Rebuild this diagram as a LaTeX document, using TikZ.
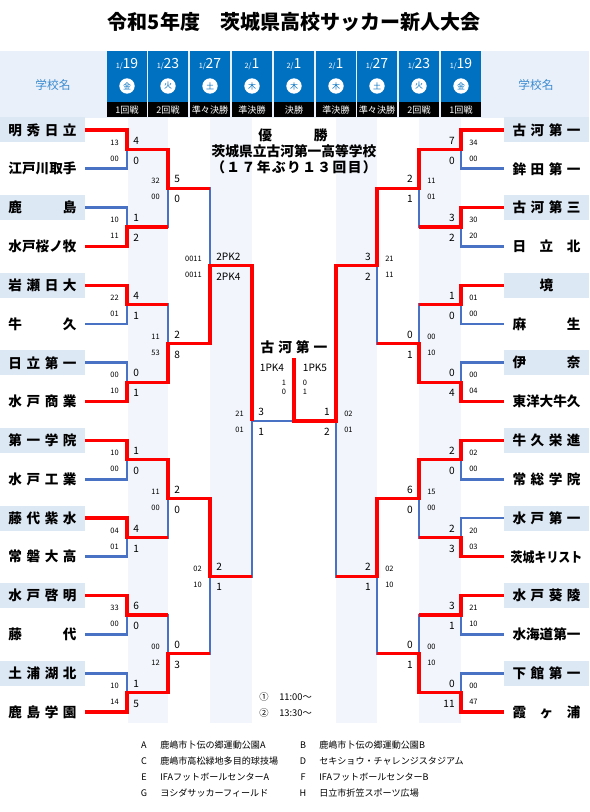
\documentclass[tikz,border=0pt]{standalone}
\usepackage{fontspec}
\usepackage{graphicx}
\setmainfont{Noto Sans CJK JP}
\usetikzlibrary{calc}

\definecolor{winred}{RGB}{255,0,0}
\definecolor{loseblue}{RGB}{74,114,196}
\definecolor{cellblue}{RGB}{0,112,192}
\definecolor{hdrbg}{RGB}{233,240,250}
\definecolor{boxbg}{RGB}{221,232,245}
\definecolor{stripe}{RGB}{242,246,252}
\definecolor{hdrtxt}{RGB}{58,138,208}

\tikzset{
  tm/.style={rectangle, inner sep=0pt, minimum width=63.75pt, minimum height=18.75pt,
    font=\fontsize{10.2}{12}\selectfont\bfseries},
  tmhi/.style={tm, fill=boxbg},
  win/.style={draw=winred, line width=2.4pt},
  lose/.style={draw=loseblue, line width=2.2pt},
  big/.style={inner sep=0pt, font=\fontsize{7.6}{9}\selectfont},
  half/.style={inner sep=0pt, font=\fontsize{5.6}{7}\selectfont},
  ttl/.style={inner sep=0pt, font=\fontsize{15}{18}\selectfont\bfseries},
  hdrlbl/.style={inner sep=0pt, text=hdrtxt, font=\fontsize{8.8}{10}\selectfont},
  datetxt/.style={inner sep=0pt, text=white, font=\fontsize{10.5}{12}\selectfont},
  wday/.style={circle, fill=white, inner sep=0pt, minimum size=11.5pt, text=cellblue,
    font=\fontsize{6}{7}\selectfont},
  rndtxt/.style={inner sep=0pt, text=white, font=\fontsize{6.8}{8}\selectfont},
  champ/.style={inner sep=0pt, font=\fontsize{10.3}{12}\selectfont\bfseries},
  note/.style={inner sep=0pt, font=\fontsize{7}{8}\selectfont},
  legkey/.style={inner sep=0pt, font=\fontsize{6.8}{8}\selectfont},
  legtxt/.style={inner sep=0pt, anchor=west, font=\fontsize{6.8}{8}\selectfont}
}

\newcommand\lscore[5]{%
  \node[big,anchor=west] (#1-a) at ($(#1)+(6,-9)$) {#2};
  \node[big,anchor=west] (#1-b) at ($(#1)+(6,11)$) {#3};
  \node[half,anchor=east] (#1-c) at ($(#1)+(-8,-7)$) {#4};
  \node[half,anchor=east] (#1-d) at ($(#1)+(-8,9)$) {#5};}
\newcommand\rscore[5]{%
  \node[big,anchor=east] (#1-a) at ($(#1)+(-6,-9)$) {#2};
  \node[big,anchor=east] (#1-b) at ($(#1)+(-6,11)$) {#3};
  \node[half,anchor=west] (#1-c) at ($(#1)+(8,-7)$) {#4};
  \node[half,anchor=west] (#1-d) at ($(#1)+(8,9)$) {#5};}

\begin{document}
\begin{tikzpicture}[x=0.75pt, y=-0.75pt]
    \useasboundingbox (0,0) rectangle (589,812);

    % 見出し
    \node[ttl] (ttl) at (294,22) {令和5年度　茨城県高校サッカー新人大会};
    \fill[hdrbg] (0,51) rectangle (589,118);
    \node[hdrlbl] (hdl) at (53,85) {学校名};
    \node[hdrlbl] (hdr) at (536,85) {学校名};
    \foreach \x/\m/\d/\w/\r [count=\i] in {127/1/19/金/1回戦, 168/1/23/火/2回戦,
        210/1/27/土/準々決勝, 252/2/1/木/準決勝, 294/2/1/木/決勝, 336/2/1/木/準決勝,
        377/1/27/土/準々決勝, 419/1/23/火/2回戦, 461/1/19/金/1回戦} {
      \fill[cellblue] (\x-20.2,51) rectangle (\x+20.2,102);
      \fill[black] (\x-20.2,102) rectangle (\x+20.2,117.5);
      \node[datetxt] (dt\i) at (\x,64) {{\fontsize{5.5}{6}\selectfont\m/}\d};
      \node[wday] (wd\i) at (\x,86) {\w};
      \node[rndtxt] (rnd\i) at (\x,110) {\r};
    }

    % 背景の列
    \foreach \a/\b in {128/168, 210/252, 336/377, 419/461}
      \fill[stripe] (\a,118) rectangle (\b,723);

    % 組み合わせの点
    \foreach \k in {0,...,7} {
      \coordinate (la\k) at (127,{149.4+77.6*\k});
      \coordinate (ra\k) at (461,{149.4+77.6*\k});
    }
    \foreach \k in {0,...,3} {
      \coordinate (lb\k) at (168,{188.2+155.2*\k});
      \coordinate (rb\k) at (419,{188.2+155.2*\k});
    }
    \foreach \k in {0,1} {
      \coordinate (lc\k) at (210,{265.8+310.4*\k});
      \coordinate (rc\k) at (377,{265.8+310.4*\k});
    }
    \coordinate (ld) at (252,421);
    \coordinate (rd) at (336,421);
    \coordinate (fin) at (294,358);

    % 学校名
    \foreach \s/\n [count=\i from 0] in {tmhi/{明\hfill 秀\hfill 日\hfill 立}, tm/江戸川取手,
        tmhi/{鹿\hfill 島}, tm/水戸桜ノ牧, tmhi/{岩\hfill 瀬\hfill 日\hfill 大}, tm/{牛\hfill 久},
        tmhi/{日\hfill 立\hfill 第\hfill 一}, tm/{水\hfill 戸\hfill 商\hfill 業},
        tmhi/{第\hfill 一\hfill 学\hfill 院}, tm/{水\hfill 戸\hfill 工\hfill 業},
        tmhi/{藤\hfill 代\hfill 紫\hfill 水}, tm/{常\hfill 磐\hfill 大\hfill 高},
        tmhi/{水\hfill 戸\hfill 啓\hfill 明}, tm/{藤\hfill 代},
        tmhi/{土\hfill 浦\hfill 湖\hfill 北}, tm/{鹿\hfill 島\hfill 学\hfill 園}}
      \node[\s] (lt\i) at (42.5,{130+38.8*\i}) {\makebox[51pt]{\n}};
    \foreach \s/\n [count=\i from 0] in {tmhi/{古\hfill 河\hfill 第\hfill 一}, tm/{鉾\hfill 田\hfill 第\hfill 一},
        tmhi/{古\hfill 河\hfill 第\hfill 三}, tm/{日\hfill 立\hfill 北}, tmhi/境, tm/{麻\hfill 生},
        tmhi/{伊\hfill 奈}, tm/東洋大牛久, tmhi/{牛\hfill 久\hfill 栄\hfill 進},
        tm/{常\hfill 総\hfill 学\hfill 院}, tmhi/{水\hfill 戸\hfill 第\hfill 一},
        tm/{\scalebox{0.88}[1]{茨城キリスト}},
        tmhi/{水\hfill 戸\hfill 葵\hfill 陵}, tm/水海道第一,
        tmhi/{下\hfill 館\hfill 第\hfill 一}, tm/{霞\hfill ヶ\hfill 浦}}
      \node[\s] (rt\i) at (546.5,{130+38.8*\i}) {\makebox[51pt]{\n}};

    % 負け側の線
    \foreach \k [evaluate=\k as \u using int(2*\k), evaluate=\k as \v using int(2*\k+1)] in {0,...,7} {
      \draw[lose] (lt\u.east) -| (la\k);
      \draw[lose] (lt\v.east) -| (la\k);
      \draw[lose] (rt\u.west) -| (ra\k);
      \draw[lose] (rt\v.west) -| (ra\k);
    }
    \foreach \k [evaluate=\k as \u using int(2*\k), evaluate=\k as \v using int(2*\k+1)] in {0,...,3} {
      \draw[lose] (la\u) -| (lb\k);
      \draw[lose] (la\v) -| (lb\k);
      \draw[lose] (ra\u) -| (rb\k);
      \draw[lose] (ra\v) -| (rb\k);
    }
    \foreach \k [evaluate=\k as \u using int(2*\k), evaluate=\k as \v using int(2*\k+1)] in {0,1} {
      \draw[lose] (lb\u) -| (lc\k);
      \draw[lose] (lb\v) -| (lc\k);
      \draw[lose] (rb\u) -| (rc\k);
      \draw[lose] (rb\v) -| (rc\k);
    }
    \draw[lose] (lc0) -| (ld);
    \draw[lose] (lc1) -| (ld);
    \draw[lose] (rc0) -| (rd);
    \draw[lose] (rc1) -| (rd);
    \draw[lose] (ld) -| (fin);

    % 勝ち上がり
    \draw[win] (lt0.east) -| (la0) -| (lb0) -- (lb0 -| lc0);
    \draw[win] (lt3.east) -| (la1) -- (la1 -| lb0);
    \draw[win] (lt4.east) -| (la2) -- (la2 -| lb1);
    \draw[win] (lt7.east) -| (la3) -| (lb1) -| (lc0) -| (ld);
    \draw[win] (lt8.east) -| (la4) -| (lb2) -| (lc1) -- (lc1 -| ld);
    \draw[win] (lt10.east) -| (la5) -- (la5 -| lb2);
    \draw[win] (lt12.east) -| (la6) -- (la6 -| lb3);
    \draw[win] (lt15.east) -| (la7) -| (lb3) -- (lb3 -| lc1);

    \draw[win] (rt0.west) -| (ra0) -| (rb0) -| (rc0) -| (rd) -| (fin);
    \draw[win] (rt2.west) -| (ra1) -- (ra1 -| rb0);
    \draw[win] (rt4.west) -| (ra2) -- (ra2 -| rb1);
    \draw[win] (rt7.west) -| (ra3) -| (rb1) -- (rb1 -| rc0);
    \draw[win] (rt8.west) -| (ra4) -| (rb2) -| (rc1) -- (rc1 -| rd);
    \draw[win] (rt11.west) -| (ra5) -- (ra5 -| rb2);
    \draw[win] (rt12.west) -| (ra6) -- (ra6 -| rb3);
    \draw[win] (rt15.west) -| (ra7) -| (rb3) -- (rb3 -| rc1);

    % スコア
    \foreach \m/\a/\b/\c/\d in {la0/4/0/13/00, la1/1/2/10/11, la2/4/1/22/01, la3/0/1/00/10,
        la4/1/0/10/00, la5/4/1/04/01, la6/6/0/33/00, la7/1/5/10/14,
        lb0/5/0/32/00, lb1/2/8/11/53, lb2/2/0/11/00, lb3/0/3/00/12,
        lc0/2PK2/2PK4/0011/0011, lc1/2/1/02/10, ld/3/1/21/01}
      \lscore{\m}{\a}{\b}{\c}{\d};
    \foreach \m/\a/\b/\c/\d in {ra0/7/0/34/00, ra1/3/2/30/20, ra2/1/0/01/00, ra3/0/4/00/04,
        ra4/2/0/02/00, ra5/2/3/20/03, ra6/3/1/21/10, ra7/0/11/00/47,
        rb0/2/1/11/01, rb1/0/1/00/10, rb2/6/0/15/00, rb3/0/1/00/10,
        rc0/3/2/21/11, rc1/2/1/02/10, rd/1/2/02/01}
      \rscore{\m}{\a}{\b}{\c}{\d};

    % 決勝
    \node[champ] (champ) at (294,347) {\makebox[50pt]{古\hfill 河\hfill 第\hfill 一}};
    \node[big] (fpkl) at (272,368) {1PK4};
    \node[big] (fpkr) at (315,368) {1PK5};
    \node[half] (fhl1) at (284,383) {1};
    \node[half] (fhl2) at (284,392) {0};
    \node[half] (fhr1) at (305,383) {0};
    \node[half] (fhr2) at (305,392) {1};

    % 優勝校
    \node[champ] (yusho) at (293,135) {\makebox[52pt]{優\hfill 勝}};
    \node[champ] (school) at (294,151) {茨城県立古河第一高等学校};
    \node[champ] (nenme) at (294,167) {\makebox[124pt]{（\hfill １\hfill ７\hfill 年\hfill ぶ\hfill り\hfill １\hfill ３\hfill 回\hfill 目\hfill ）}};

    % 時間
    \node[note,anchor=west] (time1) at (259,697) {①\hspace{8pt}11:00～};
    \node[note,anchor=west] (time2) at (259,713) {②\hspace{8pt}13:30～};

    % 会場
    \foreach \k/\t/\x/\y in {A/鹿嶋市卜伝の郷運動公園A/144/745, B/鹿嶋市卜伝の郷運動公園B/303/745,
        C/鹿嶋市高松緑地多目的球技場/144/761, D/セキショウ・チャレンジスタジアム/303/761,
        E/IFAフットボールセンターA/144/777, F/IFAフットボールセンターB/303/777,
        G/ヨシダサッカーフィールド/144/793, H/日立市折笠スポーツ広場/303/793} {
      \node[legkey] (key\k) at (\x,\y) {\k};
      \node[legtxt] (venue\k) at (\x+16,\y) {\t};
    }
\end{tikzpicture}
\end{document}
